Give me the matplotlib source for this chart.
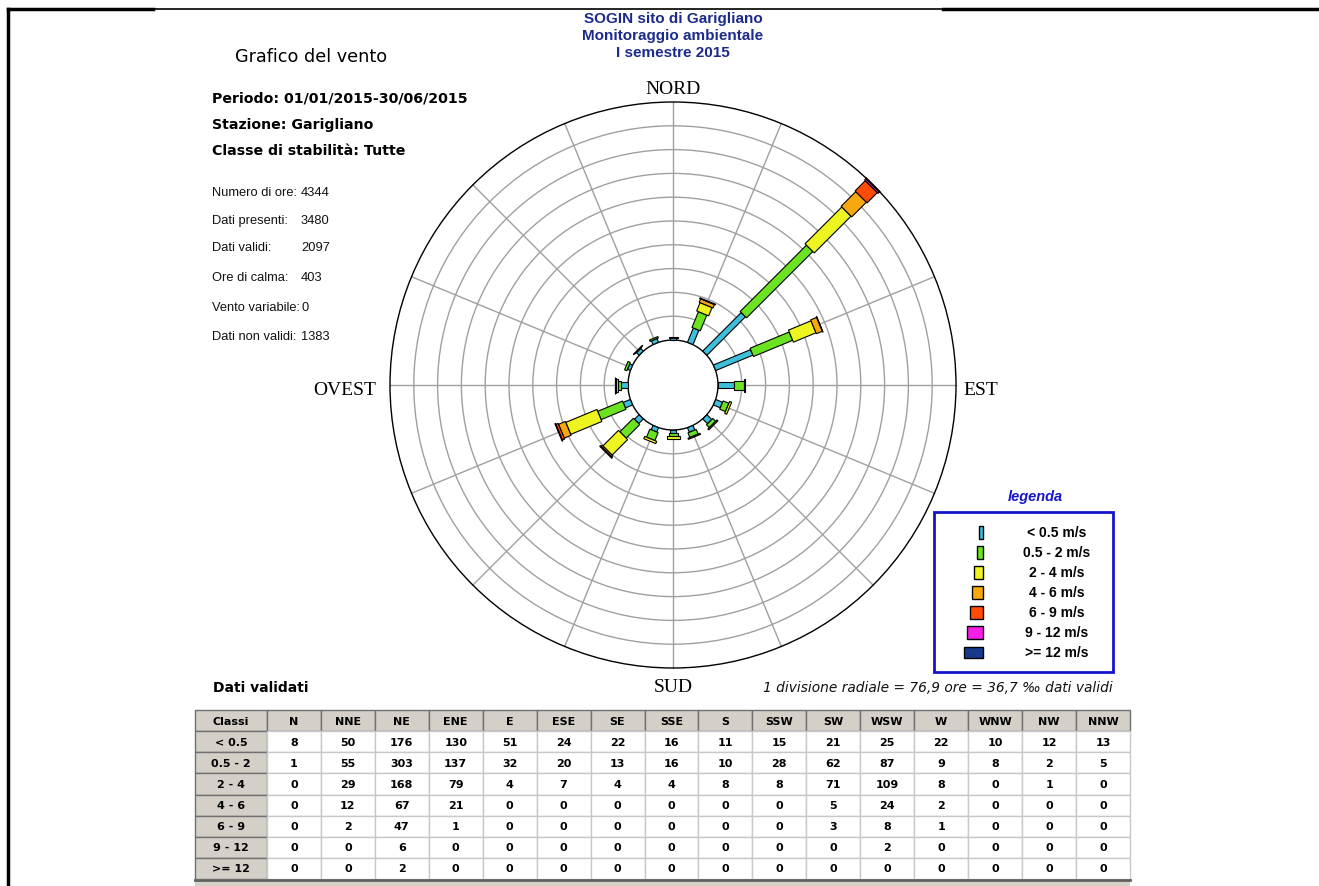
import numpy as np
import matplotlib.pyplot as plt
from matplotlib.patches import Polygon, Circle, Rectangle

# --- dati ---
directions = ['N', 'NNE', 'NE', 'ENE', 'E', 'ESE', 'SE', 'SSE',
              'S', 'SSW', 'SW', 'WSW', 'W', 'WNW', 'NW', 'NNW']
classes = ['< 0.5', '0.5 - 2', '2 - 4', '4 - 6', '6 - 9', '9 - 12', '>= 12']
legend_labels = ['< 0.5 m/s', '0.5 - 2 m/s', '2 - 4 m/s', '4 - 6 m/s',
                 '6 - 9 m/s', '9 - 12 m/s', '>= 12 m/s']
c_lt05 = [8, 50, 176, 130, 51, 24, 22, 16, 11, 15, 21, 25, 22, 10, 12, 13]
c_05_2 = [1, 55, 303, 137, 32, 20, 13, 16, 10, 28, 62, 87, 9, 8, 2, 5]
c_2_4 = [0, 29, 168, 79, 4, 7, 4, 4, 8, 8, 71, 109, 8, 0, 1, 0]
c_4_6 = [0, 12, 67, 21, 0, 0, 0, 0, 0, 0, 5, 24, 2, 0, 0, 0]
c_6_9 = [0, 2, 47, 1, 0, 0, 0, 0, 0, 0, 3, 8, 1, 0, 0, 0]
c_9_12 = [0, 0, 6, 0, 0, 0, 0, 0, 0, 0, 0, 2, 0, 0, 0, 0]
c_ge12 = [0, 0, 2, 0, 0, 0, 0, 0, 0, 0, 0, 0, 0, 0, 0, 0]
counts = [c_lt05, c_05_2, c_2_4, c_4_6, c_6_9, c_9_12, c_ge12]

ore_div = 76.9     # ore per divisione radiale
n_div = 10

stats_lab = ['Numero di ore:', 'Dati presenti:', 'Dati validi:', 'Ore di calma:',
             'Vento variabile:', 'Dati non validi:']
stats_val = ['4344', '3480', '2097', '403', '0', '1383']

colors = ['#3CC0DC', '#6BE320', '#EEF420', '#F6A80E', '#FF4B05', '#F81EE8', '#16398E']

W, H = 1319, 887
fig = plt.figure(figsize=(W / 100, H / 100), dpi=100)
bg = fig.add_axes([0, 0, 1, 1])
bg.set_xlim(0, W)
bg.set_ylim(H, 0)
bg.axis('off')

# cornice
bg.plot([8, W], [10, 10], color='black', lw=1.2)
bg.plot([8, 153], [10, 10], color='black', lw=2.5)
bg.plot([943, W], [10, 10], color='black', lw=2.5)
bg.plot([8, 8], [10, H], color='black', lw=2.5)

# titolo
title_col = '#1C2A8C'
narrow = ['Liberation Sans Narrow', 'Liberation Sans', 'DejaVu Sans']
for k, s in enumerate(['SOGIN sito di Garigliano', 'Monitoraggio ambientale', 'I semestre 2015']):
    bg.text(673, 19 + 17 * k, s, ha='center', va='center', color=title_col,
            fontweight='bold', fontsize=11, family=narrow)

# testi a sinistra
bg.text(235, 57, 'Grafico del vento', fontsize=12.7, va='center')
for k, s in enumerate(['Periodo: 01/01/2015-30/06/2015', 'Stazione: Garigliano',
                       'Classe di stabilità: Tutte']):
    bg.text(212, 99 + 26 * k, s, fontsize=10.2, fontweight='bold', va='center')
stats_y = [193, 221, 248, 278, 308, 337]
for lab, val, y in zip(stats_lab, stats_val, stats_y):
    bg.text(212, y, lab, fontsize=9.3, va='center', color='#111111',
            family=['Liberation Sans'])
    bg.text(301, y, val, fontsize=9.3, va='center', color='#111111',
            family=['Liberation Sans'])

# --- rosa dei venti ---
cx, cy = 673, 386
px_div = 23.8
r0 = 45 / px_div
R = r0 + n_div
L = 300 / px_div
ax = fig.add_axes([(cx - 300) / W, 1 - (cy + 300) / H, 600 / W, 600 / H])
ax.set_xlim(-L, L)
ax.set_ylim(-L, L)
ax.axis('off')

for j in range(1, n_div):
    ax.add_patch(Circle((0, 0), r0 + j, fill=False, ec='#A0A0A0', lw=1, zorder=1))
ax.add_patch(Circle((0, 0), r0, fill=False, ec='black', lw=1, zorder=2))
ax.add_patch(Circle((0, 0), R, fill=False, ec='black', lw=1, zorder=2))
angles = np.deg2rad(90 - 22.5 * np.arange(16))
for a in angles:
    ax.plot([r0 * np.cos(a), R * np.cos(a)], [r0 * np.sin(a), R * np.sin(a)],
            color='#A0A0A0', lw=1, zorder=1)

bar_w = np.array([6, 9, 13, 15, 17, 19, 21]) / px_div
for i, a in enumerate(angles):
    u = np.array([np.cos(a), np.sin(a)])
    v = np.array([-np.sin(a), np.cos(a)])
    start = r0
    for k in range(len(classes)):
        ln = counts[k][i] / ore_div
        if ln <= 0:
            continue
        hw = bar_w[k] / 2
        pts = [start * u - hw * v, (start + ln) * u - hw * v,
               (start + ln) * u + hw * v, start * u + hw * v]
        ax.add_patch(Polygon(pts, closed=True, fc=colors[k], ec='black', lw=0.8, zorder=3))
        start += ln

serif = ['Liberation Serif', 'DejaVu Serif']
bg.text(cx, 90, 'NORD', ha='center', va='center', fontsize=14, family=serif)
bg.text(cx, 688, 'SUD', ha='center', va='center', fontsize=14, family=serif)
bg.text(963, 391, 'EST', ha='left', va='center', fontsize=14, family=serif)
bg.text(376, 391, 'OVEST', ha='right', va='center', fontsize=14, family=serif)

# legenda
bg.text(1035, 497, 'legenda', ha='center', va='center', color='#1515D0',
        fontsize=10.5, fontweight='bold', style='italic', family=['Liberation Sans'])
bg.add_patch(Rectangle((934, 513), 179, 160, fill=False, ec='#1414CC', lw=2))
leg_w = [4, 6, 9, 11, 13, 16, 19]
for k, lab in enumerate(legend_labels):
    y = 533 + 20 * k
    hh = 11 if k == 6 else 13
    bg.add_patch(Rectangle((983 - leg_w[k], y - hh / 2), leg_w[k], hh,
                           fc=colors[k], ec='black', lw=1))
    bg.text(1057, y, lab, ha='center', va='center', fontsize=10,
            fontweight='bold', family=['Liberation Sans'])

# note
bg.text(213, 688, 'Dati validati', fontsize=10, fontweight='bold', va='center')
bg.text(1113, 688, '1 divisione radiale = 76,9 ore = 36,7 ‰ dati validi',
        ha='right', va='center', fontsize=9.9, style='italic', color='#111111')

# tabella
x0, x1, y0, y1 = 195, 1130, 711, 880
col_w = [72] + [54] * 16
cell_text = [[cl] + [str(counts[k][i]) for i in range(16)] for k, cl in enumerate(classes)]
tab = bg.table(cellText=cell_text, colLabels=['Classi'] + directions,
               colWidths=[w / sum(col_w) for w in col_w], cellLoc='center',
               bbox=[x0 / W, 1 - y1 / H, (x1 - x0) / W, (y1 - y0) / H])
tab.auto_set_font_size(False)
tab.set_fontsize(8)
for (r, c), cell in tab.get_celld().items():
    cell.set_text_props(fontweight='bold')
    cell.set_linewidth(1)
    if r == 0 or c == 0:
        cell.set_facecolor('#D4D0C8')
        cell.set_edgecolor('#707070')
    else:
        cell.set_facecolor('white')
        cell.set_edgecolor('#C8C8C8')
bg.add_patch(Rectangle((x0, y1), x1 - x0, H - y1, fc='#D4D0C8', ec='none'))
bg.plot([x0, x1], [y1 + 1, y1 + 1], color='#606060', lw=2)

fig.savefig('out.png', dpi=100)
